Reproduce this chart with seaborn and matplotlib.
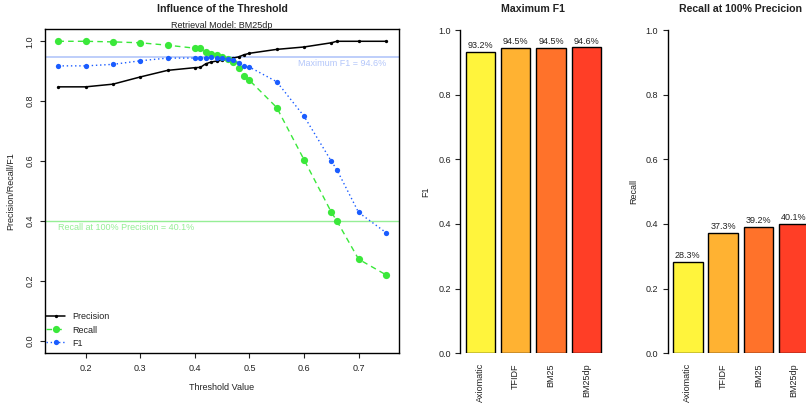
import matplotlib
matplotlib.use("Agg")
import matplotlib.pyplot as plt
import seaborn as sns
import pandas as pd

# ========== Data ==========
thresholds = [0.15, 0.20, 0.25, 0.30, 0.35, 0.40, 0.41, 0.42, 0.43, 0.44, 0.45,
              0.46, 0.47, 0.48, 0.49, 0.50, 0.55, 0.60, 0.65, 0.66, 0.70, 0.75]
precision = [0.848, 0.848, 0.857, 0.881, 0.903, 0.912, 0.913, 0.925, 0.931, 0.934, 0.937,
             0.940, 0.944, 0.948, 0.955, 0.960, 0.973, 0.981, 0.995, 1.000, 1.000, 1.000]
recall = [1.000, 1.000, 0.998, 0.995, 0.987, 0.977, 0.976, 0.965, 0.959, 0.954, 0.949,
          0.940, 0.930, 0.910, 0.884, 0.870, 0.779, 0.605, 0.430, 0.401, 0.273, 0.221]
f1 = [0.918, 0.918, 0.923, 0.935, 0.944, 0.944, 0.944, 0.945, 0.946, 0.944, 0.943,
      0.940, 0.936, 0.929, 0.919, 0.914, 0.865, 0.750, 0.600, 0.572, 0.429, 0.362]

models = ["Axiomatic", "TFIDF", "BM25", "BM25dp"]
max_f1 = [0.932, 0.945, 0.945, 0.946]
recall_full_prec = [0.283, 0.373, 0.392, 0.401]
bar_colors = ["#FFF43C", "#FFB232", "#FF722A", "#FF3E26"]

GREEN = "#3AE83A"
BLUE = "#1A5CFF"
FS = 6.5

# ========== Style ==========
sns.set_style("ticks")
plt.rcParams["font.family"] = ["Liberation Sans", "DejaVu Sans"]
plt.rcParams["text.color"] = "#222222"

fig = plt.figure(figsize=(8.06, 4.04), dpi=100)
W, H = 806, 404


def px_axes(left, top, right, bottom):
    return fig.add_axes([left / W, 1 - bottom / H, (right - left) / W, (bottom - top) / H])


# ========== Threshold panel ==========
df = pd.DataFrame({"threshold": thresholds, "precision": precision,
                   "recall": recall, "f1": f1})
ax = px_axes(45.3, 29.3, 399, 353)

best_f1 = max(f1)
rec_at_full = max(r for p, r in zip(precision, recall) if p >= 1.0)
ax.axhline(best_f1, color="#B3C6FA", lw=1.2, zorder=0)
ax.axhline(rec_at_full, color="#96EE96", lw=1.0, zorder=0)
ax.text(0.75, best_f1 - 0.006, f"Maximum F1 = {best_f1 * 100:.1f}%", color="#B3C6FA",
        ha="right", va="top", fontsize=FS)
ax.text(0.15, rec_at_full - 0.006, f"Recall at 100% Precision = {rec_at_full * 100:.1f}%",
        color="#96EE96", ha="left", va="top", fontsize=FS)

sns.lineplot(data=df, x="threshold", y="precision", ax=ax, color="black", lw=1.1,
             marker="o", markersize=2.4, markeredgewidth=0, label="Precision")
sns.lineplot(data=df, x="threshold", y="recall", ax=ax, color=GREEN, lw=1.0,
             linestyle=(0, (4, 3)), marker="o", markersize=5.2, markeredgewidth=0,
             label="Recall")
sns.lineplot(data=df, x="threshold", y="f1", ax=ax, color=BLUE, lw=1.0,
             linestyle=(0, (1, 2)), marker="o", markersize=3.8, markeredgewidth=0,
             label="F1")

ax.set_xlim(0.126, 0.774)
ax.set_ylim(-0.04, 1.04)
ax.set_xticks([0.2, 0.3, 0.4, 0.5, 0.6, 0.7])
ax.set_yticks([0.0, 0.2, 0.4, 0.6, 0.8, 1.0])
ax.set_xlabel("")
ax.set_ylabel("")
ax.tick_params(direction="out", length=3.8, width=0.8, labelsize=FS, pad=4, colors="#222222")
for lab in ax.get_yticklabels():
    lab.set_rotation(90)
    lab.set_va("center")
for s in ax.spines.values():
    s.set_visible(True)
    s.set_linewidth(1.0)
    s.set_color("black")
ax.legend(loc="lower left", bbox_to_anchor=(-0.012, 0), frameon=False, fontsize=FS,
          handlelength=2.0, handletextpad=0.8, labelspacing=0.45, borderaxespad=0.35,
          borderpad=0.25)

fig.text(222 / W, 1 - 9.3 / H, "Influence of the Threshold", ha="center", va="center",
         fontsize=7.6, fontweight="bold")
fig.text(222 / W, 1 - 25.5 / H, "Retrieval Model: BM25dp", ha="center", va="center", fontsize=FS)
fig.text(222 / W, 1 - 387.7 / H, "Threshold Value", ha="center", va="center", fontsize=FS)
fig.text(11 / W, 1 - 191 / H, "Precision/Recall/F1", ha="center", va="center",
         rotation=90, fontsize=FS)


# ========== Bar panels ==========
def bar_panel(left, values, title, ylabel):
    bx = px_axes(left, 30, left + 146.1, 353.3)
    sns.barplot(x=models, y=values, hue=models, palette=bar_colors, legend=False,
                width=0.833, saturation=1, edgecolor="black", linewidth=1.0, ax=bx)
    bx.set_xlim(-0.57, 3.57)
    bx.set_ylim(0, 1)
    bx.set_yticks([0.0, 0.2, 0.4, 0.6, 0.8, 1.0])
    bx.set_yticklabels([f"{v:.1f}" for v in [0.0, 0.2, 0.4, 0.6, 0.8, 1.0]])
    bx.set_xlabel("")
    bx.set_ylabel("")
    for side in ["top", "right", "bottom"]:
        bx.spines[side].set_visible(False)
    bx.spines["left"].set_bounds(0, 1)
    bx.spines["left"].set_linewidth(1.0)
    bx.spines["left"].set_color("black")
    bx.tick_params(axis="y", direction="out", length=3.8, width=0.8, labelsize=FS, pad=3,
                   colors="#222222")
    bx.tick_params(axis="x", length=0, labelsize=FS, pad=7, labelrotation=90, colors="#222222")
    for i, v in enumerate(values):
        bx.text(i, v + 0.006, f"{v * 100:.1f}%", ha="center", va="bottom", fontsize=FS,
                clip_on=False)
    cx = left + 146.1 / 2
    fig.text(cx / W, 1 - 9.3 / H, title, ha="center", va="center", fontsize=7.6,
             fontweight="bold")
    fig.text((left - 34.3) / W, 1 - 191.7 / H, ylabel, ha="center", va="center",
             rotation=90, fontsize=FS)
    return bx


bar_panel(460.3, max_f1, "Maximum F1", "F1")
bar_panel(667.7, recall_full_prec, "Recall at 100% Precicion", "Recall")

fig.savefig("out.png", dpi=100)
